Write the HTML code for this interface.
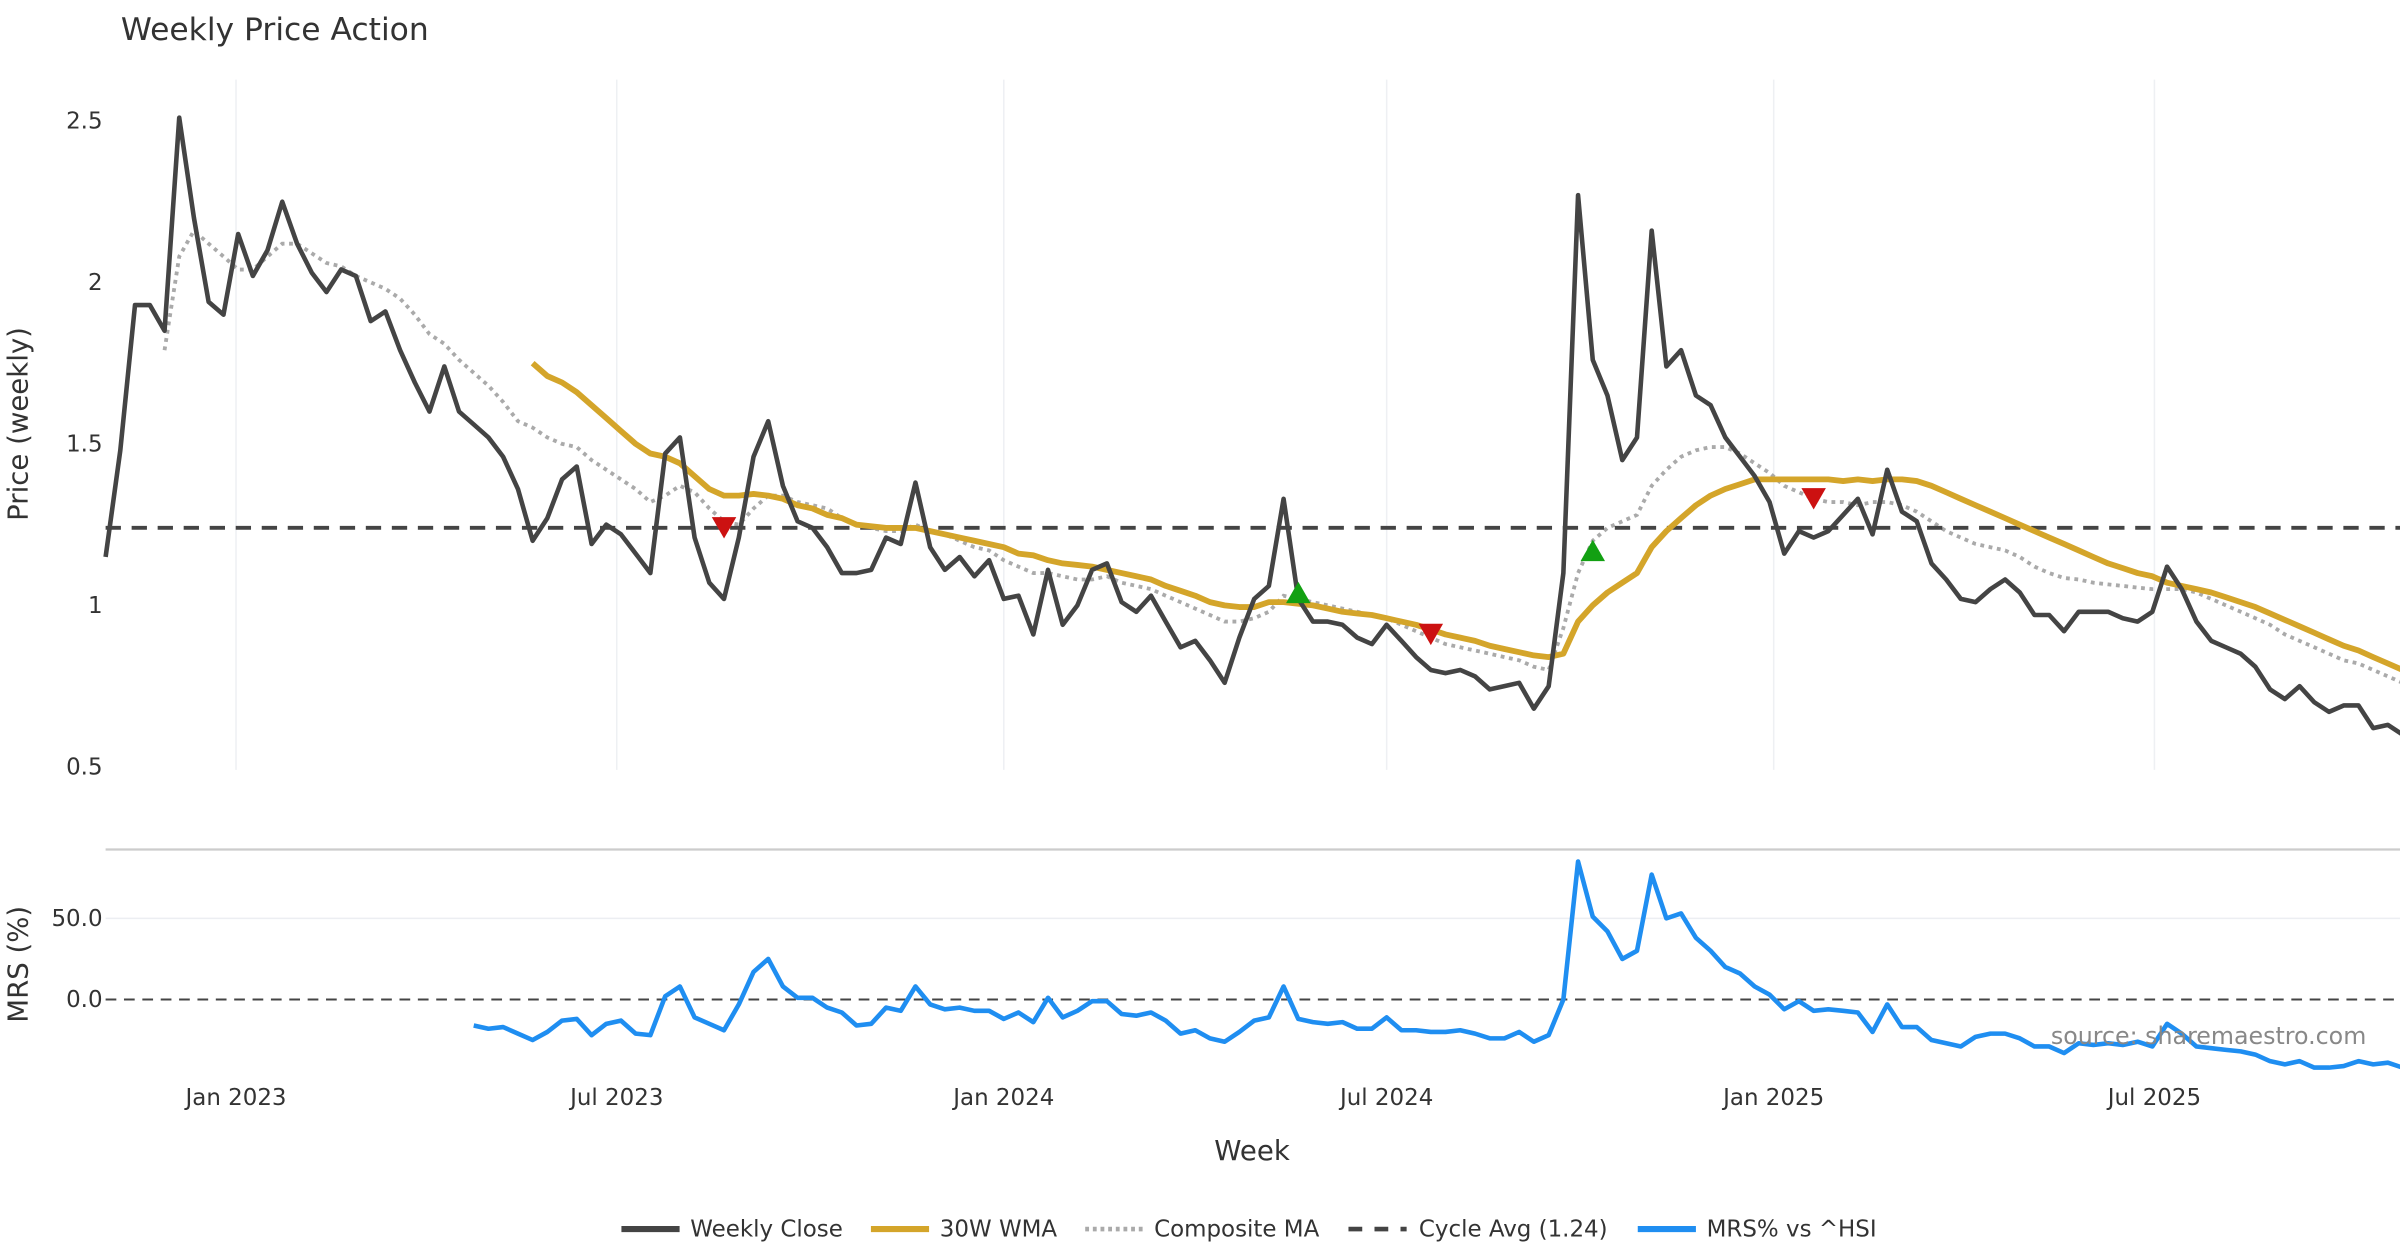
<!DOCTYPE html>
<html><head><meta charset="utf-8">
<style>
html,body{margin:0;padding:0;background:#fff;}
svg{display:block;font-family:"DejaVu Sans","Liberation Sans",sans-serif;}
</style></head>
<body>
<svg id="chart" width="2400" height="1260" viewBox="0 0 1568 823.2" xmlns="http://www.w3.org/2000/svg">
<rect x="0" y="0" width="1568" height="823.2" fill="#fff"/>
<text x="79" y="26" font-size="20.5" fill="#333">Weekly Price Action</text>
<g id="grid"></g>
<g id="axes"></g>
<g id="series"></g>
<text transform="translate(18,277) rotate(-90)" text-anchor="middle" font-size="18" fill="#333">Price (weekly)</text>
<text transform="translate(18,630) rotate(-90)" text-anchor="middle" font-size="18" fill="#333">MRS (%)</text>
<text x="818" y="758" text-anchor="middle" font-size="18" fill="#333">Week</text>
<text x="1546" y="682" text-anchor="end" font-size="15.5" fill="#888">source: sharemaestro.com</text>
<g id="legend" font-size="15" fill="#333">
  <g><line x1="406" y1="803" x2="444" y2="803" stroke="#444" stroke-width="4"/><text x="451" y="808">Weekly Close</text></g>
  <g><line x1="569" y1="803" x2="607" y2="803" stroke="#d4a52a" stroke-width="4"/><text x="614" y="808">30W WMA</text></g>
  <g><line x1="709" y1="803" x2="747" y2="803" stroke="#aaa" stroke-width="3" stroke-dasharray="2.5,2.5"/><text x="754" y="808">Composite MA</text></g>
  <g><line x1="881" y1="803" x2="919" y2="803" stroke="#444" stroke-width="3" stroke-dasharray="9,8"/><text x="927" y="808">Cycle Avg (1.24)</text></g>
  <g><line x1="1070" y1="803" x2="1108" y2="803" stroke="#1f8ef1" stroke-width="4"/><text x="1115" y="808">MRS% vs ^HSI</text></g>
</g>
<script>
const startDate = "2022-10-31";
const closeValues = [1.15,1.48,1.93,1.93,1.85,2.51,2.2,1.94,1.90,2.15,2.02,2.10,2.25,2.12,2.03,1.97,2.04,2.02,1.88,1.91,1.79,1.69,1.60,1.74,1.60,1.56,1.52,1.46,1.36,1.20,1.27,1.39,1.43,1.19,1.25,1.22,1.16,1.10,1.47,1.52,1.21,1.07,1.02,1.21,1.46,1.57,1.37,1.26,1.24,1.18,1.10,1.10,1.11,1.21,1.19,1.38,1.18,1.11,1.15,1.09,1.14,1.02,1.03,0.91,1.11,0.94,1.00,1.11,1.13,1.01,0.98,1.03,0.95,0.87,0.89,0.83,0.76,0.90,1.02,1.06,1.33,1.02,0.95,0.95,0.94,0.90,0.88,0.94,0.89,0.84,0.80,0.79,0.80,0.78,0.74,0.75,0.76,0.68,0.75,1.10,2.27,1.76,1.65,1.45,1.52,2.16,1.74,1.79,1.65,1.62,1.52,1.46,1.40,1.32,1.16,1.23,1.21,1.23,1.28,1.33,1.22,1.42,1.29,1.26,1.13,1.08,1.02,1.01,1.05,1.08,1.04,0.97,0.97,0.92,0.98,0.98,0.98,0.96,0.95,0.98,1.12,1.05,0.95,0.89,0.87,0.85,0.81,0.74,0.71,0.75,0.70,0.67,0.69,0.69,0.62,0.63,0.60];
const wmaStart = 29;
const wmaValues = [1.75,1.71,1.69,1.66,1.62,1.58,1.54,1.50,1.47,1.46,1.44,1.40,1.36,1.34,1.34,1.345,1.34,1.33,1.31,1.30,1.28,1.27,1.25,1.245,1.24,1.24,1.24,1.23,1.22,1.21,1.20,1.19,1.18,1.16,1.155,1.14,1.13,1.125,1.12,1.11,1.10,1.09,1.08,1.06,1.045,1.03,1.01,1.00,0.995,0.995,1.01,1.01,1.005,1.00,0.99,0.98,0.975,0.97,0.96,0.95,0.94,0.925,0.91,0.90,0.89,0.875,0.865,0.855,0.845,0.84,0.85,0.95,1.00,1.04,1.07,1.10,1.18,1.23,1.27,1.31,1.34,1.36,1.375,1.39,1.39,1.39,1.39,1.39,1.39,1.385,1.39,1.385,1.39,1.39,1.385,1.37,1.35,1.33,1.31,1.29,1.27,1.25,1.23,1.21,1.19,1.17,1.15,1.13,1.115,1.10,1.09,1.07,1.06,1.05,1.04,1.025,1.01,0.995,0.975,0.955,0.935,0.915,0.895,0.875,0.86,0.84,0.82,0.80];
const compStart = 4;
const compValues = [1.79,2.08,2.16,2.12,2.08,2.04,2.04,2.08,2.12,2.12,2.09,2.06,2.05,2.02,2.00,1.98,1.95,1.90,1.84,1.81,1.76,1.72,1.68,1.63,1.57,1.55,1.52,1.50,1.49,1.45,1.42,1.39,1.36,1.32,1.34,1.37,1.35,1.30,1.26,1.25,1.30,1.34,1.34,1.32,1.31,1.30,1.27,1.25,1.24,1.23,1.23,1.25,1.23,1.22,1.20,1.18,1.17,1.14,1.12,1.10,1.10,1.09,1.08,1.08,1.09,1.07,1.06,1.05,1.03,1.01,0.99,0.97,0.95,0.95,0.96,0.98,1.03,1.02,1.01,1.00,0.99,0.98,0.97,0.96,0.94,0.92,0.90,0.88,0.87,0.86,0.85,0.84,0.83,0.81,0.80,0.93,1.10,1.20,1.24,1.26,1.28,1.37,1.42,1.46,1.48,1.49,1.49,1.47,1.44,1.41,1.37,1.35,1.33,1.32,1.32,1.31,1.32,1.32,1.31,1.29,1.26,1.23,1.21,1.19,1.18,1.17,1.15,1.12,1.10,1.085,1.08,1.07,1.065,1.06,1.055,1.05,1.05,1.05,1.04,1.02,1.00,0.98,0.96,0.94,0.91,0.89,0.87,0.85,0.83,0.82,0.80,0.78,0.76];
const cycleAvg = 1.24;
const mrsStart = 25;
const mrsValues = [-16,-18,-17,-21,-25,-20,-13,-12,-22,-15,-13,-21,-22,2,8,-11,-15,-19,-3,17,25,8,1,1,-5,-8,-16,-15,-5,-7,8,-3,-6,-5,-7,-7,-12,-8,-14,1,-11,-7,-1,-1,-9,-10,-8,-13,-21,-19,-24,-26,-20,-13,-11,8,-12,-14,-15,-14,-18,-18,-11,-19,-19,-20,-20,-19,-21,-24,-24,-20,-26,-22,0,85,51,42,25,30,77,50,53,38,30,20,16,8,3,-6,-1,-7,-6,-7,-8,-20,-3,-17,-17,-25,-27,-29,-23,-21,-21,-24,-29,-29,-33,-27,-28,-27,-28,-26,-29,-15,-21,-29,-30,-31,-32,-34,-38,-40,-38,-42,-42,-41,-38,-40,-39,-42];
const signalIdx = [42,81,90,101,116];
const signalVals = [1.24,1.04,0.91,1.17,1.33];
const signalDir = ["down","up","down","up","down"];
const priceTicks = [0.5,1,1.5,2,2.5];
const priceTickLabels = ["0.5","1","1.5","2","2.5"];
const mrsTicks = [0,50];
const mrsTickLabels = ["0.0","50.0"];
const dateTicks = ["2023-01-01","2023-07-01","2024-01-01","2024-07-01","2025-01-01","2025-07-01"];
const dateTickLabels = ["Jan 2023","Jul 2023","Jan 2024","Jul 2024","Jan 2025","Jul 2025"];

const NS="http://www.w3.org/2000/svg";
const X0=69, STEP=9.62;
function xIdx(i){return X0+i*STEP;}
function xDate(d){return xIdx((new Date(d)-new Date(startDate))/86400000/7);}
function yP(v){return 501-(v-0.5)*211;}
function yM(v){return 653-v*1.06;}
function mk(tag,attrs,parent){const e=document.createElementNS(NS,tag);for(const k in attrs)e.setAttribute(k,attrs[k]);parent.appendChild(e);return e;}
const grid=document.getElementById('grid'),axes=document.getElementById('axes'),ser=document.getElementById('series');

dateTicks.forEach((d,k)=>{
  const x=xDate(d);
  const g=mk('line',{x1:x,x2:x,y1:52,y2:503,stroke:'#eef0f3','stroke-width':1},grid);
  
  
  const t=mk('text',{x:x,y:722,'text-anchor':'middle','font-size':15,fill:'#333'},axes);
  t.textContent=dateTickLabels[k];
  
  
});
priceTicks.forEach((v,k)=>{
  const t=mk('text',{x:67,y:yP(v)+5,'text-anchor':'end','font-size':15,fill:'#333'},axes);
  t.textContent=priceTickLabels[k];
  
  
});
mrsTicks.forEach((v,k)=>{
  if(v!==0){const g=mk('line',{x1:69,x2:1568,y1:yM(v),y2:yM(v),stroke:'#eceef2','stroke-width':1},grid);
  
  }
  const t=mk('text',{x:67,y:yM(v)+5,'text-anchor':'end','font-size':15,fill:'#333'},axes);
  t.textContent=mrsTickLabels[k];
  
  
});
const sep=mk('line',{x1:69,x2:1568,y1:555,y2:555,stroke:'#cccccc','stroke-width':1.5},axes);



function pts(vals,start,yf){return vals.map((v,i)=>xIdx(start+i).toFixed(1)+','+yf(v).toFixed(1)).join(' ');}
const zl=mk('line',{x1:69,x2:1568,y1:yM(0),y2:yM(0),stroke:'#444','stroke-width':1.3,'stroke-dasharray':'7,5'},ser);


const comp=mk('polyline',{points:pts(compValues,compStart,yP),fill:'none',stroke:'#aaaaaa','stroke-width':2.5,'stroke-dasharray':'2.5,3'},ser);


const cyc=mk('line',{x1:69,x2:1568,y1:yP(cycleAvg),y2:yP(cycleAvg),stroke:'#444','stroke-width':2.5,'stroke-dasharray':'10,7'},ser);


const wma=mk('polyline',{points:pts(wmaValues,wmaStart,yP),fill:'none',stroke:'#d4a52a','stroke-width':3.8,'stroke-linejoin':'round'},ser);


const cl=mk('polyline',{points:pts(closeValues,0,yP),fill:'none',stroke:'#444444','stroke-width':3,'stroke-linejoin':'round'},ser);


const mrs=mk('polyline',{points:pts(mrsValues,mrsStart,yM),fill:'none',stroke:'#1f8ef1','stroke-width':3,'stroke-linejoin':'round'},ser);


signalIdx.forEach((i,k)=>{
  const x=xIdx(i),y=yP(signalVals[k]);
  let p;
  if(signalDir[k]==='up'){p=mk('polygon',{points:`${x-8},${y+7} ${x+8},${y+7} ${x},${y-7}`,fill:'#12a012'},ser);}
  else{p=mk('polygon',{points:`${x-8},${y-7} ${x+8},${y-7} ${x},${y+7}`,fill:'#cc1111'},ser);}
  
});
</script>
</svg>
</body></html>
